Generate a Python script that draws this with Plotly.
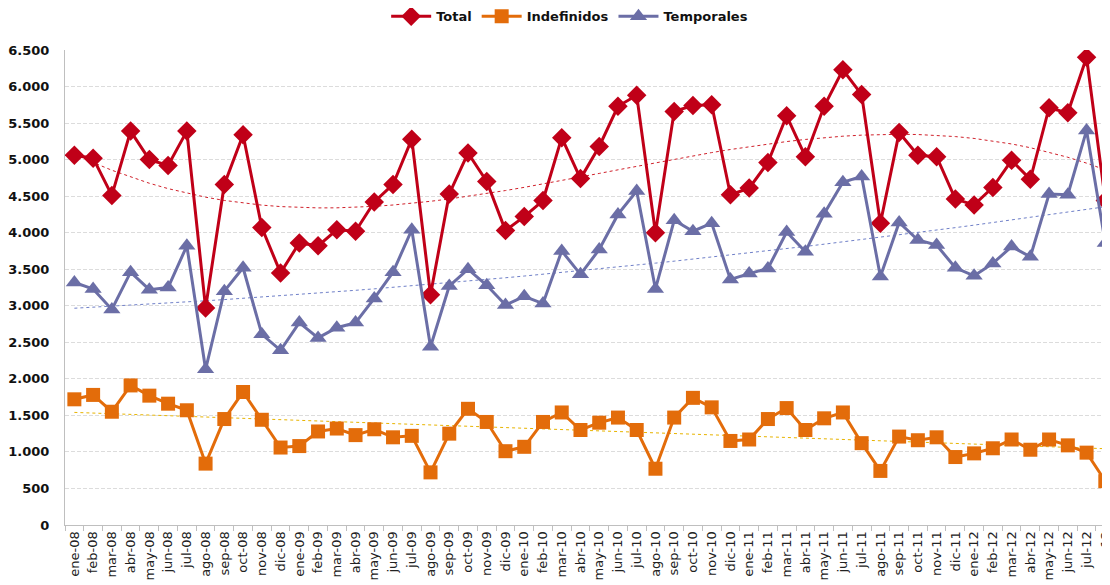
import numpy as np
import plotly.graph_objects as go

months = ["ene", "feb", "mar", "abr", "may", "jun", "jul", "ago", "sep", "oct", "nov", "dic"]
categories = [f"{m}-{y:02d}" for y in range(8, 13) for m in months][:56]

total = [5060, 5020, 4510, 5390, 5000, 4920, 5390, 2970, 4660, 5340, 4070, 3450,
         3860, 3820, 4040, 4020, 4420, 4660, 5280, 3150, 4530, 5090, 4700, 4030,
         4220, 4440, 5300, 4740, 5180, 5730, 5880, 4000, 5660, 5740, 5750, 4520,
         4610, 4960, 5600, 5040, 5730, 6230, 5890, 4130, 5370, 5060, 5040, 4460,
         4380, 4620, 4990, 4730, 5710, 5640, 6400, 4440]

indefinidos = [1720, 1780, 1550, 1910, 1770, 1660, 1570, 840, 1450, 1820, 1440, 1060,
               1080, 1280, 1320, 1230, 1310, 1200, 1220, 720, 1250, 1590, 1410, 1010,
               1070, 1410, 1540, 1300, 1400, 1470, 1300, 770, 1470, 1740, 1610, 1150,
               1170, 1450, 1600, 1300, 1460, 1540, 1120, 740, 1210, 1160, 1200, 930,
               980, 1050, 1170, 1030, 1170, 1090, 990, 600]

temporales = [3320, 3230, 2950, 3460, 3220, 3250, 3820, 2130, 3200, 3520, 2610, 2390,
              2770, 2560, 2700, 2770, 3100, 3460, 4040, 2440, 3270, 3500, 3280, 3010,
              3130, 3030, 3750, 3430, 3770, 4250, 4570, 3230, 4170, 4020, 4130, 3360,
              3440, 3510, 4010, 3740, 4260, 4690, 4770, 3400, 4140, 3900, 3830, 3520,
              3410, 3580, 3810, 3670, 4530, 4520, 5400, 3860]

C_TOTAL = "#C00018"
C_IND = "#E36C0A"
C_TEMP = "#6B6EA6"

xi = np.arange(len(categories))

def trend(vals, deg):
    p = np.polyfit(xi, np.array(vals, dtype=float), deg)
    return np.polyval(p, xi)

fig = go.Figure()

# trend lines
for vals, deg, col in [(total, 3, "#D0202A"), (indefinidos, 1, "#E8B400"), (temporales, 2, "#6F7FC8")]:
    fig.add_trace(go.Scatter(x=categories, y=trend(vals, deg), mode="lines",
                             line=dict(color=col, width=1, dash="dot"),
                             showlegend=False, hoverinfo="skip"))

fig.add_trace(go.Scatter(x=categories, y=total, name="Total", mode="lines+markers",
                         line=dict(color=C_TOTAL, width=3),
                         marker=dict(symbol="diamond", size=15, color=C_TOTAL)))
fig.add_trace(go.Scatter(x=categories, y=indefinidos, name="Indefinidos", mode="lines+markers",
                         line=dict(color=C_IND, width=3),
                         marker=dict(symbol="square", size=14, color=C_IND)))
fig.add_trace(go.Scatter(x=categories, y=temporales, name="Temporales", mode="lines+markers",
                         line=dict(color=C_TEMP, width=3),
                         marker=dict(symbol="triangle-up", size=15, color=C_TEMP)))

fig.update_layout(
    width=1110, height=585,
    margin=dict(l=57, r=8, t=42, b=68, autoexpand=False),
    paper_bgcolor="white", plot_bgcolor="white",
    separators=",.",
    font=dict(family="DejaVu Sans, Verdana, sans-serif", color="#222222"),
    legend=dict(orientation="h", xref="container", x=0.506, xanchor="center",
                yref="container", y=0.986, yanchor="middle",
                font=dict(size=13, weight="bold", color="#111111"),
                itemwidth=40, tracegroupgap=0),
    showlegend=True,
)
fig.update_xaxes(
    type="category", range=[-0.5, 55.25], automargin=False,
    tickangle=-90, tickfont=dict(size=13, color="#222222"),
    showline=True, linecolor="#bfbfbf", linewidth=1,
    ticks="outside", tickson="boundaries", ticklen=5, tickcolor="#bfbfbf",
    showgrid=False,
)
fig.update_yaxes(
    range=[0, 6500], dtick=500, tickformat=",d", automargin=False,
    tickfont=dict(size=13, weight="bold", color="#111111"),
    showgrid=True, gridcolor="#dcdcdc", gridwidth=1, griddash="4px,2px",
    showline=True, linecolor="#bfbfbf", linewidth=1,
    zeroline=False, ticks="", ticklabelstandoff=12,
)

fig.write_html("out.html")
